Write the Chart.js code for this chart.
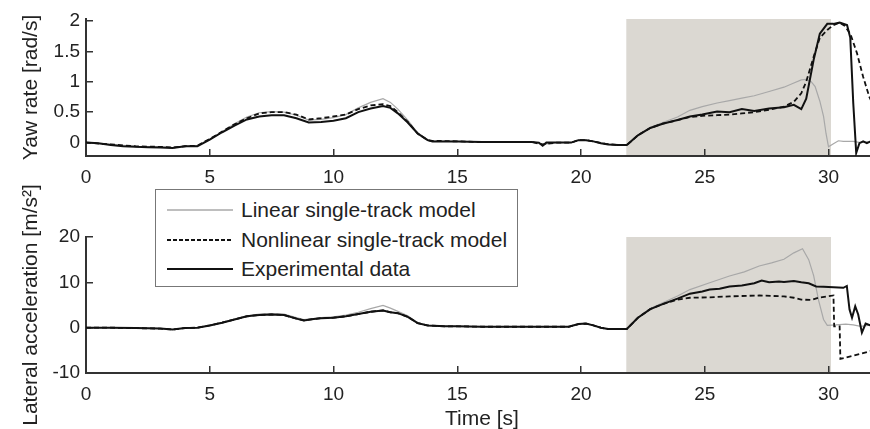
<!DOCTYPE html>
<html>
<head>
<meta charset="utf-8">
<script src="https://cdn.jsdelivr.net/npm/chart.js@4.4.0/dist/chart.umd.min.js"></script>
<style>
  html, body { margin: 0; padding: 0; background: #fff; overflow: hidden; }
  #wrap { position: relative; width: 870px; height: 429px; overflow: hidden; }
  canvas { position: absolute; left: 0; }
  #yawChart { top: 0; }
  #latChart { top: 175px; }
  #legend {
    position: absolute; left: 155px; top: 189px; width: 361px; height: 96px;
    border: 1px solid #777; background: #fff;
    font-family: 'Liberation Sans', Arial, sans-serif; font-size: 21px; color: #222;
  }
  #legend .row { position: absolute; left: 0; height: 24px; line-height: 24px; white-space: nowrap; }
  #legend svg { position: absolute; left: 11px; top: 0; }
  #legend span { position: absolute; left: 85px; top: 0; }
</style>
</head>
<body>
<div id="wrap">
  <canvas id="yawChart" width="878" height="195"></canvas>
  <canvas id="latChart" width="878" height="254"></canvas>
  <div id="legend">
    <div class="row" style="top:8px"><svg width="66" height="24"><line x1="0" y1="12" x2="66" y2="12" stroke="#a8a8a8" stroke-width="1.5"/></svg><span>Linear single-track model</span></div>
    <div class="row" style="top:38px"><svg width="66" height="24"><line x1="0" y1="12" x2="66" y2="12" stroke="#111" stroke-width="2" stroke-dasharray="4,2"/></svg><span>Nonlinear single-track model</span></div>
    <div class="row" style="top:67px"><svg width="66" height="24"><line x1="0" y1="12" x2="66" y2="12" stroke="#111" stroke-width="2"/></svg><span>Experimental data</span></div>
  </div>
</div>
<script>
// shaded interval [s]
const shadeFrom = 21.83;
const shadeTo = 30.1;

const timeTicks = [0, 5, 10, 15, 20, 25, 30];
const yawTicks = [0, 0.5, 1, 1.5, 2];
const latTicks = [-10, 0, 10, 20];

// yaw rate [rad/s]
const yawExpT = [0, 0.5, 1, 1.5, 2, 2.5, 3, 3.5, 4, 4.5, 5, 5.5, 6, 6.5, 7, 7.5, 8, 8.5, 9, 9.5, 10, 10.5, 11, 11.5, 12, 12.3, 12.6, 13, 13.4, 13.8, 14, 15, 16, 17, 18, 18.3, 18.45, 18.6, 19, 19.6, 19.9, 20.2, 20.5, 20.8, 21.1, 21.5, 21.85, 22.3, 22.8, 23.3, 23.9, 24.4, 24.9, 25.5, 26, 26.5, 27, 27.6, 28.2, 28.6, 28.9, 29.1, 29.4, 29.65, 29.95, 30.2, 30.45, 30.75, 30.88, 31.0, 31.12, 31.25, 31.4, 31.55, 31.7, 32];
const yawExp  = [0, -0.01, -0.04, -0.06, -0.07, -0.075, -0.08, -0.09, -0.06, -0.06, 0.05, 0.17, 0.28, 0.38, 0.43, 0.45, 0.45, 0.40, 0.33, 0.34, 0.36, 0.40, 0.50, 0.56, 0.60, 0.57, 0.48, 0.33, 0.15, 0.04, 0.02, 0.02, 0.01, 0.01, 0.01, 0.0, -0.05, 0.0, 0.0, 0.0, 0.04, 0.04, 0.02, -0.01, -0.03, -0.04, -0.04, 0.12, 0.24, 0.31, 0.37, 0.43, 0.46, 0.51, 0.50, 0.55, 0.52, 0.56, 0.58, 0.62, 0.55, 0.72, 1.36, 1.79, 1.95, 1.95, 1.97, 1.93, 1.72, 0.65, -0.17, -0.01, 0.02, -0.01, 0.02, 0.02];

const yawNlT = [0, 1, 2, 3, 3.5, 4, 4.5, 5, 5.5, 6, 6.5, 7, 7.5, 8, 8.5, 9, 9.5, 10, 10.5, 11, 11.5, 12, 12.3, 12.6, 13, 13.4, 13.8, 14, 15, 16, 17, 18, 18.45, 19, 19.6, 19.9, 20.2, 20.5, 21, 21.5, 21.85, 22.3, 22.8, 23.3, 23.9, 24.4, 24.9, 25.5, 26, 26.5, 27, 27.6, 28.2, 28.6, 28.9, 29.1, 29.4, 29.65, 29.95, 30.2, 30.45, 30.65, 30.88, 31.15, 31.4, 31.65, 32];
const yawNl  = [0, -0.03, -0.06, -0.07, -0.08, -0.06, -0.05, 0.06, 0.18, 0.30, 0.40, 0.48, 0.50, 0.50, 0.46, 0.38, 0.40, 0.43, 0.46, 0.55, 0.61, 0.63, 0.60, 0.50, 0.34, 0.15, 0.04, 0.03, 0.02, 0.01, 0.01, 0.01, -0.03, 0.0, 0.0, 0.04, 0.04, 0.02, -0.02, -0.04, -0.04, 0.12, 0.24, 0.31, 0.37, 0.42, 0.44, 0.45, 0.46, 0.48, 0.50, 0.54, 0.59, 0.67, 0.81, 1.0, 1.41, 1.72, 1.85, 1.93, 1.97, 1.92, 1.79, 1.47, 1.08, 0.75, 0.45];

const yawLinT = [0, 1, 2, 3, 3.5, 4, 4.5, 5, 5.5, 6, 6.5, 7, 7.5, 8, 8.5, 9, 9.5, 10, 10.5, 11, 11.5, 12, 12.3, 12.6, 13, 13.4, 13.8, 14, 15, 16, 17, 18, 18.45, 19, 19.6, 19.9, 20.2, 20.5, 21, 21.5, 21.85, 22.3, 22.8, 23.3, 23.9, 24.4, 24.9, 25.5, 26, 26.5, 27, 27.6, 28.2, 28.6, 28.9, 29.1, 29.3, 29.46, 29.65, 29.8, 29.9, 30.0, 30.2, 30.4, 30.6, 31, 31.3, 31.7, 32];
const yawLin  = [0, -0.03, -0.06, -0.07, -0.08, -0.06, -0.05, 0.06, 0.18, 0.31, 0.42, 0.49, 0.51, 0.50, 0.45, 0.37, 0.38, 0.41, 0.46, 0.57, 0.66, 0.72, 0.66, 0.55, 0.37, 0.16, 0.05, 0.03, 0.02, 0.01, 0.01, 0.01, -0.03, 0.0, 0.0, 0.04, 0.04, 0.02, -0.02, -0.04, -0.04, 0.12, 0.25, 0.33, 0.42, 0.53, 0.59, 0.65, 0.69, 0.73, 0.77, 0.84, 0.91, 0.98, 1.03, 1.04, 1.0, 0.92, 0.68, 0.43, 0.15, -0.07, -0.02, 0.03, 0.02, 0.02, 0.0, 0.02, 0.02];

// lateral acceleration [m/s^2]
const latExpT = [0, 1, 2, 3, 3.5, 4, 4.5, 5, 5.5, 6, 6.5, 7, 7.5, 8, 8.5, 8.8, 9.2, 9.5, 10, 10.5, 11, 11.5, 12, 12.3, 12.6, 13, 13.4, 13.8, 14.5, 15, 16, 17, 18, 19, 19.5, 19.9, 20.2, 20.5, 20.8, 21.1, 21.5, 21.85, 22.3, 22.8, 23.3, 23.9, 24.4, 24.9, 25.2, 25.6, 26, 26.5, 27, 27.3, 27.6, 28, 28.2, 28.6, 28.9, 29.2, 29.5, 29.8, 30.2, 30.6, 30.74, 30.85, 30.95, 31.08, 31.2, 31.35, 31.5, 31.7, 32];
const latExp  = [0, 0, -0.1, -0.2, -0.4, -0.1, 0, 0.5, 1.1, 1.8, 2.5, 2.8, 2.9, 2.8, 2.0, 1.6, 1.9, 2.1, 2.2, 2.5, 3.0, 3.5, 3.8, 3.4, 3.2, 2.4, 1.0, 0.5, 0.3, 0.3, 0.2, 0.2, 0.2, 0.2, 0.2, 0.8, 0.9, 0.5, 0, -0.3, -0.3, -0.3, 2.2, 4.1, 5.2, 6.4, 7.5, 8.0, 8.4, 8.6, 9.1, 9.3, 9.8, 10.4, 10.0, 10.2, 10.1, 10.3, 10.0, 9.8, 9.1, 9.0, 8.9, 8.8, 9.2, 4.0, 2.2, 4.7, 2.9, -1.1, 0.9, 0.5, 0.6];

const latNlT = [0, 1, 2, 3, 3.5, 4, 4.5, 5, 5.5, 6, 6.5, 7, 7.5, 8, 8.5, 8.8, 9.2, 9.5, 10, 10.5, 11, 11.5, 12, 12.3, 12.6, 13, 13.4, 13.8, 14.5, 15, 16, 17, 18, 19, 19.5, 19.9, 20.2, 20.5, 20.8, 21.1, 21.5, 21.85, 22.3, 22.8, 23.3, 23.9, 24.4, 25.2, 26, 27.2, 28.2, 28.6, 28.9, 29.3, 29.6, 30.2, 30.23, 30.45, 30.48, 31.0, 31.68, 32];
const latNl  = [0, 0, -0.1, -0.2, -0.4, -0.1, 0, 0.5, 1.1, 1.8, 2.5, 2.8, 2.9, 2.8, 2.0, 1.6, 1.9, 2.1, 2.2, 2.5, 3.0, 3.5, 3.8, 3.4, 3.2, 2.4, 1.0, 0.5, 0.3, 0.3, 0.2, 0.2, 0.2, 0.2, 0.2, 0.8, 0.9, 0.5, 0, -0.3, -0.3, -0.3, 2.2, 4.1, 5.2, 6.2, 6.6, 6.7, 6.9, 7.1, 6.9, 6.6, 6.2, 6.1, 6.6, 7.1, 0.3, 0.3, -6.9, -6.2, -5.2, -4.8];

const latLinT = [0, 1, 2, 3, 3.5, 4, 4.5, 5, 5.5, 6, 6.5, 7, 7.5, 8, 8.5, 8.8, 9.2, 9.5, 10, 10.5, 11, 11.5, 12, 12.3, 12.6, 13, 13.4, 13.8, 14.5, 15, 16, 17, 18, 19, 19.5, 19.9, 20.2, 20.5, 20.8, 21.1, 21.5, 21.85, 22.3, 22.8, 23.3, 23.9, 24.4, 25.2, 26, 26.6, 27.2, 27.7, 28.2, 28.6, 28.95, 29.2, 29.4, 29.6, 29.8, 29.95, 30.3, 30.7, 31.0, 31.3, 31.6, 32];
const latLin  = [0, 0, -0.1, -0.2, -0.4, -0.1, 0, 0.5, 1.2, 1.9, 2.6, 3.0, 3.1, 3.0, 2.2, 1.8, 2.0, 2.2, 2.4, 2.8, 3.4, 4.2, 4.9, 4.3, 3.6, 2.6, 1.1, 0.5, 0.3, 0.3, 0.2, 0.2, 0.2, 0.2, 0.2, 0.8, 0.9, 0.5, 0, -0.3, -0.3, -0.3, 2.2, 4.2, 5.5, 7.0, 8.4, 9.9, 11.4, 12.3, 13.6, 14.3, 15.1, 16.5, 17.4, 15.0, 11.5, 6.0, 1.8, 0.5, 0.6, 0.8, 0.6, 0.3, 0.5, 0.5];

const FONT = "'Liberation Sans', Arial, sans-serif";
Chart.defaults.font.family = FONT;
Chart.defaults.color = '#222';

const pts = (t, v) => t.map((x, i) => ({x: x, y: v[i]}));

const shadePlugin = {
    id: 'shade',
    beforeDraw(chart) {
        const {ctx, chartArea, scales} = chart;
        const x0 = scales.x.getPixelForValue(shadeFrom);
        const x1 = scales.x.getPixelForValue(shadeTo);
        ctx.save();
        ctx.fillStyle = '#dbd8d2';
        ctx.fillRect(x0, chartArea.top, x1 - x0, chartArea.bottom - chartArea.top);
        ctx.restore();
    }
};

// axis titles drawn with a fixed baseline, like the MATLAB figure
const titlePlugin = {
    id: 'axisTitles',
    afterDraw(chart, args, opts) {
        const {ctx, chartArea} = chart;
        ctx.save();
        ctx.font = '21px ' + FONT;
        ctx.fillStyle = '#222';
        ctx.textAlign = 'center';
        ctx.textBaseline = 'alphabetic';
        ctx.save();
        ctx.translate(opts.yBase, (chartArea.top + chartArea.bottom) / 2);
        ctx.rotate(-Math.PI / 2);
        ctx.fillText(opts.yText, 0, 0);
        ctx.restore();
        if (opts.xText) {
            ctx.fillText(opts.xText, (chartArea.left + chartArea.right) / 2, opts.xBase);
        }
        ctx.restore();
    }
};

function noPad(s) {
    s.paddingLeft = 0; s.paddingRight = 0; s.paddingTop = 0; s.paddingBottom = 0;
}

function makeChart(id, series, yMin, yMax, yTicks, titles, padTop, xHeight) {
    const styles = [
        {label: 'Linear single-track model', borderColor: '#a8a8a8', borderWidth: 1.2, order: 2},
        {label: 'Nonlinear single-track model', borderColor: '#111', borderWidth: 1.8, borderDash: [5, 3], order: 1},
        {label: 'Experimental data', borderColor: '#111', borderWidth: 2, order: 0},
    ];
    const axisStyle = {
        grid: {drawOnChartArea: false, drawTicks: true, tickLength: -7, color: '#333', lineWidth: 1.5},
        border: {display: true, color: '#333', width: 2},
    };
    return new Chart(document.getElementById(id), {
        type: 'line',
        data: {
            datasets: series.map((d, i) => Object.assign({
                data: d, pointRadius: 0, tension: 0, fill: false
            }, styles[i]))
        },
        options: {
            responsive: false,
            animation: false,
            layout: {padding: {top: padTop, left: 0, right: 0, bottom: 0}},
            plugins: {legend: {display: false}, tooltip: {enabled: false}, axisTitles: titles},
            scales: {
                x: Object.assign({
                    type: 'linear', min: 0, max: 32,
                    afterBuildTicks: s => { s.ticks = timeTicks.map(v => ({value: v})); },
                    afterFit: s => { s.height = xHeight; noPad(s); },
                    ticks: {padding: 17, font: {size: 19}, color: '#222', maxRotation: 0, callback: v => String(v)},
                }, axisStyle),
                y: Object.assign({
                    type: 'linear', min: yMin, max: yMax,
                    afterBuildTicks: s => { s.ticks = yTicks.map(v => ({value: v})); },
                    afterFit: s => { s.width = 86; noPad(s); },
                    ticks: {padding: 13, font: {size: 19}, color: '#222', callback: v => String(v)},
                }, axisStyle),
            }
        },
        plugins: [shadePlugin, titlePlugin]
    });
}

makeChart('yawChart',
    [pts(yawLinT, yawLin), pts(yawNlT, yawNl), pts(yawExpT, yawExp)],
    -0.22, 2.03, yawTicks, {yText: 'Yaw rate [rad/s]', yBase: 37}, 19, 39);

makeChart('latChart',
    [pts(latLinT, latLin), pts(latNlT, latNl), pts(latExpT, latExp)],
    -10, 20, latTicks,
    {yText: 'Lateral acceleration [m/s\u00b2]', yBase: 37, xText: 'Time [s]', xBase: 250}, 62, 56);
</script>
</body>
</html>
